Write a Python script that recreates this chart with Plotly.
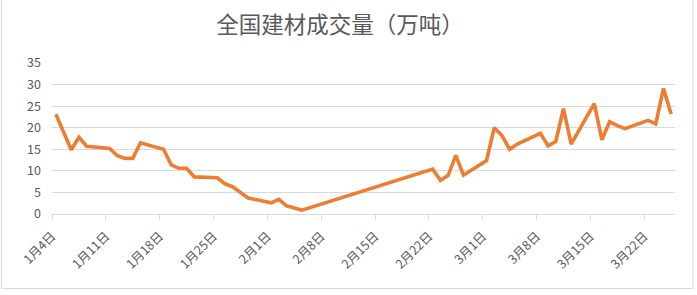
import plotly.graph_objects as go
import pandas as pd

dates = [
    "2021-01-04", "2021-01-05", "2021-01-06", "2021-01-07", "2021-01-08",
    "2021-01-11", "2021-01-12", "2021-01-13", "2021-01-14", "2021-01-15",
    "2021-01-18", "2021-01-19", "2021-01-20", "2021-01-21", "2021-01-22",
    "2021-01-25", "2021-01-26", "2021-01-27", "2021-01-28", "2021-01-29",
    "2021-02-01", "2021-02-02", "2021-02-03", "2021-02-04", "2021-02-05",
    "2021-02-22", "2021-02-23", "2021-02-24", "2021-02-25", "2021-02-26",
    "2021-03-01", "2021-03-02", "2021-03-03", "2021-03-04", "2021-03-05",
    "2021-03-08", "2021-03-09", "2021-03-10", "2021-03-11", "2021-03-12",
    "2021-03-15", "2021-03-16", "2021-03-17", "2021-03-18", "2021-03-19",
    "2021-03-22", "2021-03-23", "2021-03-24", "2021-03-25",
]
volumes = [
    23.1, 18.8, 14.9, 17.8, 15.7,
    15.2, 13.5, 12.9, 12.9, 16.5,
    15.0, 11.4, 10.6, 10.6, 8.6,
    8.4, 7.0, 6.3, 4.9, 3.7,
    2.6, 3.4, 1.9, 1.4, 0.9,
    10.4, 7.8, 8.9, 13.6, 9.0,
    12.4, 20.0, 18.2, 15.0, 16.2,
    18.7, 15.8, 16.8, 24.4, 16.2,
    25.6, 17.2, 21.4, 20.5, 19.8,
    21.7, 20.9, 29.1, 23.2,
]
tick_dates = ["2021-01-04", "2021-01-11", "2021-01-18", "2021-01-25", "2021-02-01",
              "2021-02-08", "2021-02-15", "2021-02-22", "2021-03-01", "2021-03-08",
              "2021-03-15", "2021-03-22"]
tick_labels = ["1月4日", "1月11日", "1月18日", "1月25日", "2月1日", "2月8日",
               "2月15日", "2月22日", "3月1日", "3月8日", "3月15日", "3月22日"]
title_text = "全国建材成交量（万吨）"

# points sit in the middle of each day slot (Excel date axis)
x_vals = pd.to_datetime(dates) + pd.Timedelta(hours=12)

FONT = "Noto Sans CJK SC"
GREY = "#595959"
GRID = "#D9D9D9"

fig = go.Figure()
fig.add_trace(go.Scatter(
    x=x_vals, y=volumes, mode="lines",
    line=dict(color="#ED7D31", width=3.6),
    hoverinfo="skip", showlegend=False,
))

L, R, T, B = 52, 22, 63, 81
W, H = 697, 295
pw, ph = W - L - R, H - T - B

fig.update_layout(
    width=W, height=H,
    margin=dict(l=L, r=R, t=T, b=B, pad=0),
    paper_bgcolor="white", plot_bgcolor="white",
    font=dict(family=FONT, color=GREY, size=12),
    title=dict(text=title_text, x=340 / W, xanchor="center", y=1 - 25 / H, yanchor="middle",
               font=dict(family=FONT, size=22.5, color=GREY)),
    xaxis=dict(
        type="date",
        range=["2021-01-04", "2021-03-26"],
        tickvals=pd.to_datetime(tick_dates), ticktext=tick_labels,
        tickangle=-45, tickfont=dict(size=12.5, color=GREY, family=FONT),
        showgrid=False, showline=True, linecolor=GRID, linewidth=1,
        ticks="outside", ticklen=5, tickcolor=GRID, tickwidth=1,
        ticklabelstandoff=4,
        zeroline=False, fixedrange=True,
    ),
    yaxis=dict(
        range=[0, 35], dtick=5, tick0=0,
        showgrid=True, gridcolor=GRID, gridwidth=1,
        showline=False, zeroline=False, ticks="",
        tickfont=dict(size=12.5, color=GREY, family=FONT),
        ticklabelstandoff=10, fixedrange=True,
    ),
)

# outer chart border (left, right, bottom)
x0 = (1.5 - L) / pw
x1 = (693 - L) / pw
y0 = -(288.5 - (T + ph)) / ph
y1 = (T + ph + 10) / ph
fig.add_shape(type="line", xref="paper", yref="paper", x0=x0, x1=x0, y0=y0, y1=y1,
              line=dict(color=GRID, width=1))
fig.add_shape(type="line", xref="paper", yref="paper", x0=x1, x1=x1, y0=y0, y1=y1,
              line=dict(color=GRID, width=1))
fig.add_shape(type="line", xref="paper", yref="paper", x0=x0, x1=x1, y0=y0, y1=y0,
              line=dict(color=GRID, width=1))

fig.write_html("out.html", config={"displayModeBar": False})
